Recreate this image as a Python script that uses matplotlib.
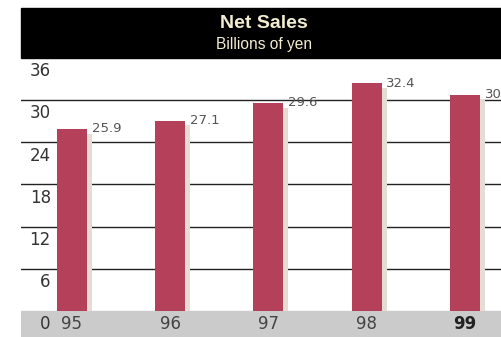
import matplotlib.pyplot as plt
from matplotlib.patches import Rectangle

years = ['95', '96', '97', '98', '99']
sales = [25.9, 27.1, 29.6, 32.4, 30.8]
yticks = [0, 6, 12, 18, 24, 30, 36]

bar_color = '#b5405a'
shadow_color = '#e4ddd3'
text_gray = '#555555'

fig = plt.figure(figsize=(5.02, 3.37), dpi=100)
W, H = 502, 337
ax = fig.add_axes([21 / W, 0, 1 - 21 / W, 1 - 58 / H])
ax.set_xlim(-0.519, 4.377)
ax.set_ylim(-3.714, 36)
ax.axis('off')

# gray band at the bottom
ax.axhspan(-3.714, 0, color='#cbcbcb', zorder=0)

# gridlines
for t in yticks[1:-1]:
    ax.axhline(t, color='#222222', lw=1, zorder=1)

x = list(range(len(years)))
# shadow bars
ax.bar([i + 0.05 for i in x], [v - 0.7 for v in sales], width=0.305,
       color=shadow_color, zorder=2)
ax.bar(x, sales, width=0.305, color=bar_color, zorder=3)

for i, v in zip(x, sales):
    ax.text(i + 0.2, v, f'{v:.1f}', ha='left', va='center', fontsize=9.5,
            color=text_gray, zorder=4)

# y tick labels inside the plot, below each line
for t in yticks:
    ax.text(0.062, t - 1.9, str(t), transform=ax.get_yaxis_transform(),
            ha='right', va='center', fontsize=12, color='#333333')

# year labels
for i, y in zip(x, years):
    bold = y == '99'
    ax.text(i, -1.9, y, ha='center', va='center', fontsize=12,
            color='#222222' if bold else '#444444',
            fontweight='bold' if bold else 'normal')

# black title bar
fig.patches.append(Rectangle((21 / W, 1 - 58 / H), 1 - 21 / W, 50 / H,
                             transform=fig.transFigure, color='black'))
fig.text(0.5 + 13 / W, 1 - 23 / H, 'Net Sales', ha='center', va='center',
         fontsize=14, fontweight='bold', color='#f2ecd2',
         family='Liberation Sans')
fig.text(0.5 + 13 / W, 1 - 44 / H, 'Billions of yen', ha='center',
         va='center', fontsize=11.2, color='#f2ecd2', family='Liberation Sans')

fig.savefig('out.png', dpi=100)
